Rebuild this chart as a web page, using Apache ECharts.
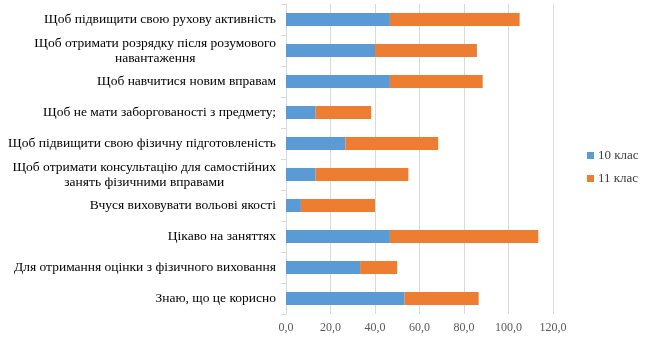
<!DOCTYPE html>
<html><head><meta charset="utf-8">
<script src="https://cdn.jsdelivr.net/npm/echarts@6/dist/echarts.min.js"></script>
<style>html,body{margin:0;padding:0;background:#fff}#c{width:651px;height:340px}</style>
</head><body><div id="c"></div>
<script>
const categories = [
  "Щоб підвищити свою рухову активність",
  "Щоб отримати розрядку після розумового\nнавантаження",
  "Щоб навчитися новим вправам",
  "Щоб не мати заборгованості з предмету;",
  "Щоб підвищити свою фізичну підготовленість",
  "Щоб отримати консультацію для самостійних\nзанять фізичними вправами",
  "Вчуся виховувати вольові якості",
  "Цікаво на заняттях",
  "Для отримання оцінки з фізичного виховання",
  "Знаю, що це корисно"
];
const class10 = [46.7, 40.0, 46.7, 13.3, 26.7, 13.3, 6.7, 46.7, 33.3, 53.3];
const class11 = [58.3, 45.8, 41.7, 25.0, 41.7, 41.7, 33.3, 66.7, 16.7, 33.3];
const seriesNames = ["10 клас", "11 клас"];
const xTicks = { min: 0, max: 120, interval: 20 };

const font = "'Liberation Serif', 'DejaVu Serif', serif";
const chart = echarts.init(document.getElementById('c'), null, {renderer: 'canvas'});
chart.setOption({
  animation: false,
  textStyle: { fontFamily: font },
  grid: { left: 286, top: 4, width: 267, height: 310, containLabel: false },
  legend: {
    orient: 'vertical', left: 582, top: 144, itemWidth: 7, itemHeight: 7, itemGap: 10,
    icon: 'rect',
    textStyle: { fontFamily: font, fontSize: 13, color: '#404040', padding: [0, 0, 0, -1] },
    data: seriesNames
  },
  xAxis: {
    type: 'value', min: xTicks.min, max: xTicks.max, interval: xTicks.interval,
    axisLine: { show: false }, axisTick: { show: false },
    splitLine: { lineStyle: { color: '#d9d9d9', width: 1 } },
    axisLabel: { fontFamily: font, fontSize: 12, color: '#595959', margin: 8,
      formatter: v => v.toFixed(1).replace('.', ',') }
  },
  yAxis: {
    type: 'category', inverse: true, data: categories,
    axisLine: { show: true, lineStyle: { color: '#d9d9d9' } },
    axisTick: { show: true, length: 5, lineStyle: { color: '#d9d9d9' } },
    axisLabel: {
      fontFamily: font, fontSize: 13.5, color: '#000', margin: 10,
      formatter: v => '{c|' + v + '}',
      rich: { c: { align: 'center', fontFamily: font, fontSize: 13.5, color: '#000', lineHeight: 15 } }
    }
  },
  series: [
    { name: seriesNames[0], type: 'bar', stack: 't', data: class10, barWidth: 13,
      itemStyle: { color: '#5B9BD5' } },
    { name: seriesNames[1], type: 'bar', stack: 't', data: class11, barWidth: 13,
      itemStyle: { color: '#ED7D31' } }
  ]
});
</script></body></html>
